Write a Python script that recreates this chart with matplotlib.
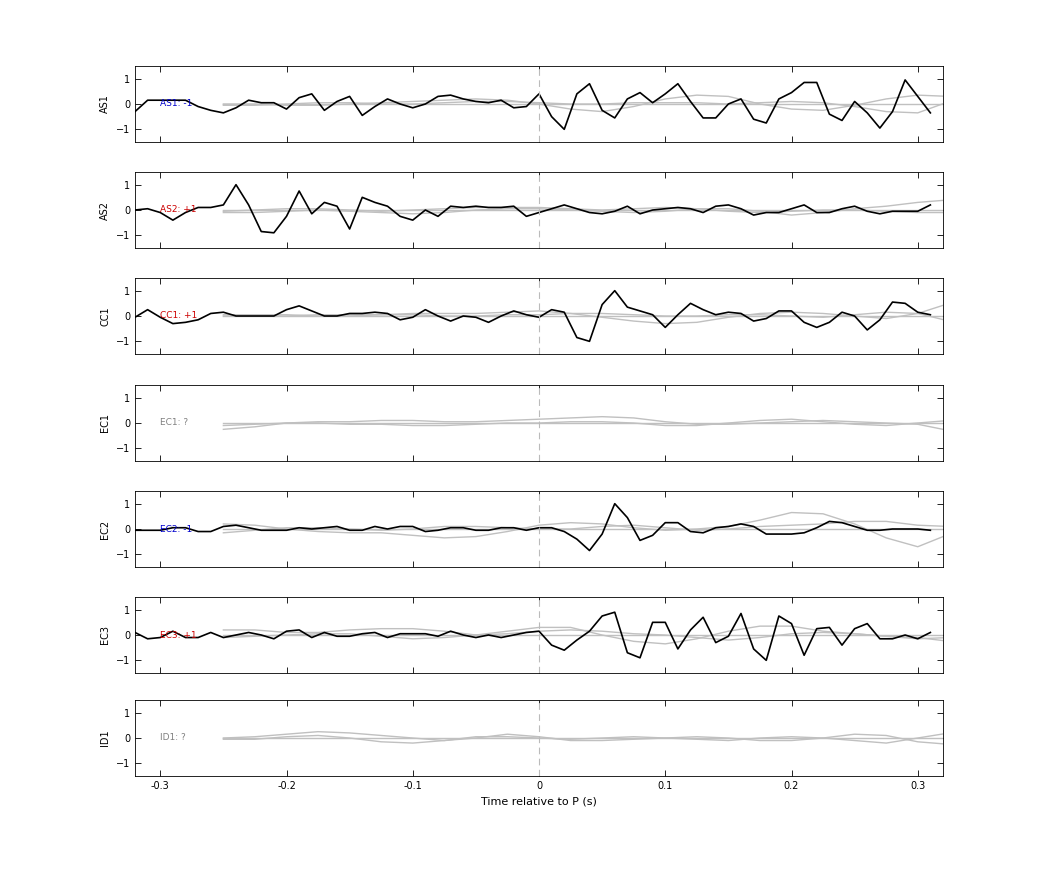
import numpy as np
import matplotlib.pyplot as plt

t = np.round(np.arange(-0.32, 0.315, 0.01), 2)
tg = np.round(np.arange(-0.25, 0.326, 0.025), 3)

names = ["AS1", "AS2", "CC1", "EC1", "EC2", "EC3", "ID1"]
labels = ["AS1: -1", "AS2: +1", "CC1: +1", "EC1: ?", "EC2: -1", "EC3: +1", "ID1: ?"]
label_colors = ["#0000cc", "#cc0000", "#cc0000", "#808080", "#0000cc", "#cc0000", "#808080"]

AS1 = [-0.3,0.15,0.15,0.15,0.15,-0.1,-0.25,-0.35,-0.15,0.15,0.05,0.05,-0.2,0.25,0.4,-0.25,0.1,0.3,-0.45,-0.1,0.2,0.0,-0.15,0.0,0.3,0.35,0.2,0.1,0.05,0.15,-0.15,-0.1,
       0.4,-0.5,-1.0,0.4,0.8,-0.25,-0.55,0.2,0.45,0.05,0.4,0.8,0.1,-0.55,-0.55,0.0,0.2,-0.6,-0.75,0.2,0.45,0.85,0.85,-0.4,-0.65,0.1,-0.35,-0.95,-0.3,0.95,0.3,-0.35]
AS2 = [0.0,0.05,-0.1,-0.4,-0.1,0.1,0.1,0.2,1.0,0.2,-0.85,-0.9,-0.25,0.75,-0.15,0.3,0.15,-0.75,0.5,0.3,0.15,-0.25,-0.4,0.0,-0.25,0.15,0.1,0.15,0.1,0.1,0.15,-0.25,
       -0.1,0.05,0.2,0.05,-0.1,-0.15,-0.05,0.15,-0.15,0.0,0.05,0.1,0.05,-0.1,0.15,0.2,0.05,-0.2,-0.1,-0.1,0.05,0.2,-0.1,-0.1,0.05,0.15,-0.05,-0.15,-0.05,-0.05,-0.05,0.2]
CC1 = [-0.05,0.25,-0.05,-0.3,-0.25,-0.15,0.1,0.15,0.0,0.0,0.0,0.0,0.25,0.4,0.2,0.0,0.0,0.1,0.1,0.15,0.1,-0.15,-0.05,0.25,0.0,-0.2,0.0,-0.05,-0.25,0.0,0.2,0.05,
       -0.05,0.25,0.15,-0.85,-1.0,0.45,1.0,0.35,0.2,0.05,-0.45,0.05,0.5,0.25,0.05,0.15,0.1,-0.2,-0.1,0.2,0.2,-0.25,-0.45,-0.25,0.15,0.0,-0.55,-0.15,0.55,0.5,0.15,0.05]
EC1 = None
EC2 = [-0.05,-0.05,-0.05,0.05,0.05,-0.1,-0.1,0.1,0.15,0.05,-0.05,-0.05,-0.05,0.05,0.0,0.05,0.1,-0.05,-0.05,0.1,0.0,0.1,0.1,-0.1,-0.05,0.05,0.05,-0.05,-0.05,0.05,0.05,-0.05,
       0.05,0.05,-0.1,-0.4,-0.85,-0.2,1.0,0.45,-0.45,-0.25,0.25,0.25,-0.1,-0.15,0.05,0.1,0.2,0.1,-0.2,-0.2,-0.2,-0.15,0.05,0.3,0.25,0.1,-0.05,-0.05,0.0,0.0,0.0,-0.05]
EC3 = [0.1,-0.15,-0.1,0.15,-0.1,-0.1,0.1,-0.1,0.0,0.1,0.0,-0.15,0.15,0.2,-0.1,0.1,-0.05,-0.05,0.05,0.1,-0.1,0.05,0.05,0.05,-0.05,0.15,0.0,-0.1,0.0,-0.1,0.0,0.1,
       0.15,-0.4,-0.6,-0.2,0.15,0.75,0.9,-0.7,-0.9,0.5,0.5,-0.55,0.2,0.7,-0.3,-0.05,0.85,-0.55,-1.0,0.75,0.45,-0.8,0.25,0.3,-0.4,0.25,0.45,-0.15,-0.15,0.0,-0.15,0.1]
ID1 = None
black = [AS1, AS2, CC1, EC1, EC2, EC3, ID1]

# gray template traces (values at tg, 24 points)
g_AS1 = [[0.0]*24,
         [0.0,0.0,-0.05,-0.05,0.0,0.05,0.1,0.15,0.2,0.15,0.0,-0.2,-0.3,-0.1,0.2,0.35,0.3,0.0,-0.2,-0.25,-0.05,0.2,0.35,0.3],
         [-0.05,-0.05,0.0,0.05,0.05,0.0,0.0,0.05,0.1,0.1,0.05,0.0,0.0,0.05,0.05,0.05,0.0,0.05,0.1,0.05,-0.1,-0.3,-0.35,0.1]]
g_AS2 = [[0.0]*24,
         [-0.1,-0.1,-0.05,0.0,-0.05,-0.1,-0.15,-0.1,0.0,0.05,0.05,0.0,-0.05,-0.1,-0.05,0.05,0.05,-0.05,-0.2,-0.1,0.05,0.15,0.3,0.4],
         [-0.05,0.0,0.05,0.05,0.0,-0.05,0.0,0.05,0.1,0.1,0.1,0.05,0.0,0.05,0.1,0.05,-0.05,-0.1,-0.05,0.0,0.0,-0.05,-0.1,-0.1]]
g_CC1 = [[0.0]*24,
         [0.0,0.0,0.0,0.05,0.05,0.05,0.1,0.1,0.1,0.15,0.2,0.1,-0.05,-0.2,-0.3,-0.25,-0.05,0.1,0.15,0.1,0.0,-0.1,0.1,0.5],
         [0.05,0.05,0.05,0.0,0.0,0.05,0.05,0.0,0.0,0.05,0.05,0.1,0.1,0.05,0.0,0.0,0.05,0.05,0.0,-0.05,0.05,0.15,0.1,-0.2]]
g_EC1 = [[0.0]*24,
         [-0.25,-0.15,0.0,0.05,0.05,0.1,0.1,0.05,0.05,0.1,0.15,0.2,0.25,0.2,0.05,-0.05,-0.05,0.0,0.05,0.1,0.05,0.0,-0.05,-0.3],
         [-0.1,-0.05,0.0,0.0,-0.05,-0.05,-0.1,-0.1,-0.05,0.0,0.0,0.05,0.05,0.0,-0.1,-0.1,0.0,0.1,0.15,0.05,-0.05,-0.1,0.0,0.1]]
g_EC2 = [[0.0]*24,
         [0.2,0.15,0.0,-0.1,-0.15,-0.15,-0.25,-0.35,-0.3,-0.1,0.15,0.25,0.2,0.05,-0.05,0.0,0.1,0.35,0.65,0.6,0.2,-0.35,-0.7,-0.2],
         [-0.15,-0.05,0.05,0.05,0.0,-0.05,0.0,0.1,0.1,0.05,0.0,0.0,0.1,0.15,0.05,-0.05,0.0,0.1,0.15,0.2,0.3,0.3,0.15,0.1]]
g_EC3 = [[0.0]*24,
         [0.2,0.2,0.1,0.1,0.2,0.25,0.25,0.15,0.0,0.15,0.3,0.3,0.0,-0.25,-0.35,-0.15,0.15,0.35,0.35,0.15,0.05,-0.05,-0.1,-0.25],
         [-0.1,-0.05,0.0,0.05,0.05,-0.05,-0.15,-0.1,0.0,0.05,0.15,0.2,0.15,0.05,0.0,-0.1,-0.2,-0.1,0.05,0.1,0.05,-0.05,-0.15,-0.1]]
g_ID1 = [[0.0]*24,
         [0.0,0.05,0.15,0.25,0.2,0.1,0.0,-0.1,0.0,0.15,0.05,-0.1,-0.1,-0.05,0.0,0.05,0.0,-0.1,-0.1,0.0,0.15,0.1,-0.15,-0.25],
         [-0.05,-0.05,0.05,0.1,0.0,-0.15,-0.2,-0.1,0.05,0.05,0.0,-0.05,0.0,0.05,0.0,-0.05,-0.1,0.0,0.05,0.0,-0.1,-0.2,0.0,0.2]]
grays = [g_AS1, g_AS2, g_CC1, g_EC1, g_EC2, g_EC3, g_ID1]

fig = plt.figure(figsize=(10.42, 8.75), dpi=100)
W, H = 1042, 875
tops = [66, 172, 278, 385, 491, 597, 700]
ph = 76
for i in range(7):
    ax = fig.add_axes([135 / W, 1 - (tops[i] + ph) / H, 808 / W, ph / H])
    for g in grays[i]:
        ax.plot(tg, g, color="#c0c0c0", lw=1)
    if black[i] is not None:
        ax.plot(t, black[i], color="black", lw=1.2)
    ax.axvline(0, color="#bbbbbb", ls=(0, (6, 4)), lw=0.8)
    ax.text(-0.3, 0, labels[i], color=label_colors[i], fontsize=6.5, va="center", ha="left")
    ax.set_xlim(-0.32, 0.32)
    ax.set_ylim(-1.5, 1.5)
    ax.set_yticks([-1, 0, 1])
    ax.set_xticks([-0.3, -0.2, -0.1, 0, 0.1, 0.2, 0.3])
    ax.tick_params(direction="in", top=True, right=True, labelsize=7, length=4, width=0.6)
    ax.set_ylabel(names[i], fontsize=7)
    for s in ax.spines.values():
        s.set_linewidth(0.6)
    if i < 6:
        ax.set_xticklabels([])
    else:
        ax.set_xticklabels(["-0.3", "-0.2", "-0.1", "0", "0.1", "0.2", "0.3"])
        ax.set_xlabel("Time relative to P (s)", fontsize=8)

fig.savefig("out.png", dpi=100)
